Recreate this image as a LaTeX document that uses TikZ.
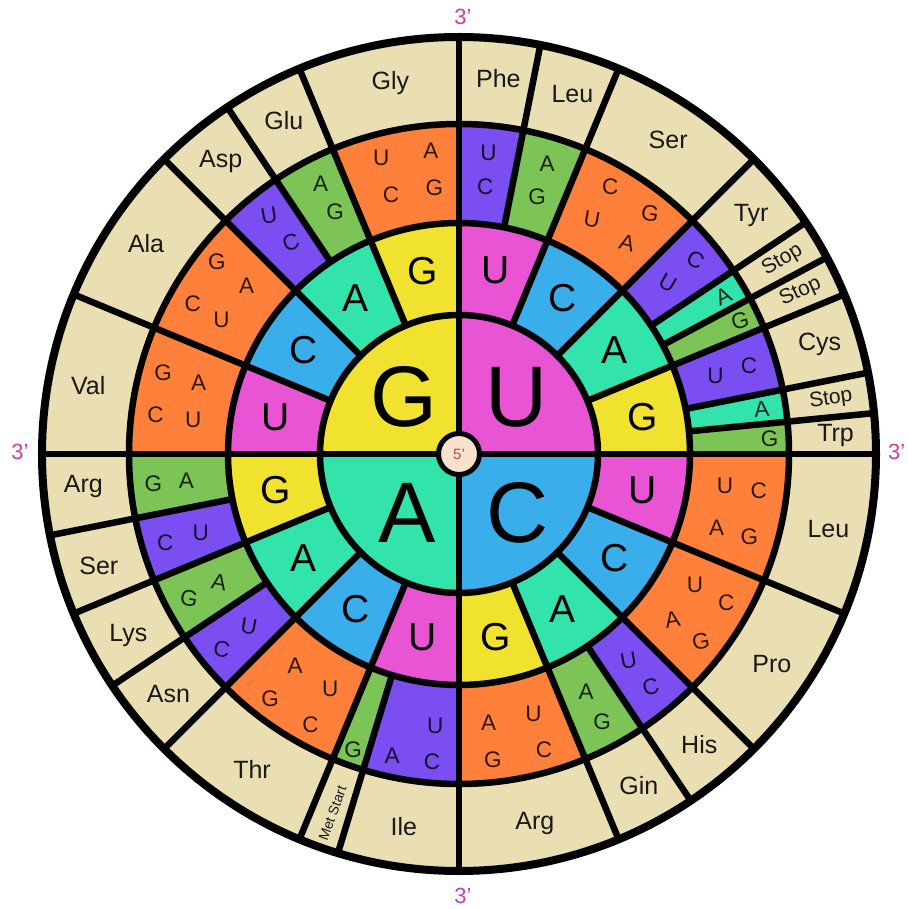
\documentclass[tikz,border=0pt]{standalone}
\usepackage{fontspec}
\setmainfont{Liberation Sans}
\definecolor{cU}{RGB}{232,84,212}
\definecolor{cC}{RGB}{58,174,234}
\definecolor{cA}{RGB}{50,228,172}
\definecolor{cG}{RGB}{241,226,48}
\definecolor{cO}{RGB}{255,128,58}
\definecolor{cP}{RGB}{122,78,240}
\definecolor{cGr}{RGB}{125,196,86}
\definecolor{cB}{RGB}{233,223,178}
\definecolor{cThree}{RGB}{196,66,168}
\definecolor{cFive}{RGB}{248,226,206}
\definecolor{cFiveT}{RGB}{170,80,80}
\definecolor{ink}{RGB}{25,25,25}
\newcommand{\annsec}[5]{\fill[#1] (#2:#4pt) arc[start angle=#2, end angle=#3, radius=#4pt] -- (#3:#5pt) arc[start angle=#3, end angle=#2, radius=#5pt] -- cycle;}
\begin{document}
\begin{tikzpicture}[x=1pt,y=1pt,
  edge/.style={line width=6.5pt, draw=black},
  rim/.style={line width=8pt, draw=black},
  bigletter/.style={font=\fontsize{86}{86}\selectfont, inner sep=0pt, text=black},
  midletter/.style={font=\fontsize{39}{39}\selectfont, inner sep=0pt, text=black},
  codonletter/.style={font=\fontsize{22.5}{22.5}\selectfont, inner sep=0pt, text=black, text opacity=0.82},
  aalabel/.style={font=\fontsize{25}{25}\selectfont, inner sep=0pt, text=ink},
  stoplabel/.style={font=\fontsize{21}{21}\selectfont, inner sep=0pt, text=ink},
  primelabel/.style={font=\fontsize{22}{22}\selectfont, inner sep=0pt, text=cThree},
]
\useasboundingbox (-459,-455) rectangle (448,454);
\fill[cB] (0,0) circle[radius=417pt];
% third ring boxes
\foreach \sa/\sb/\col in {90/78.75/cP, 78.75/67.5/cGr, 67.5/45/cO, 45/33.75/cP, 33.75/28.125/cA, 28.125/22.5/cGr, 22.5/11.25/cP, 11.25/5.625/cA, 5.625/0/cGr, 0/-22.5/cO, -22.5/-45/cO, -45/-56.25/cP, -56.25/-67.5/cGr, -67.5/-90/cO, 270/253.125/cP, 253.125/247.5/cGr, 247.5/225/cO, 225/213.75/cP, 213.75/202.5/cGr, 202.5/191.25/cP, 191.25/180/cGr, 180/157.5/cO, 157.5/135/cO, 135/123.75/cP, 123.75/112.5/cGr, 112.5/90/cO}
  {\annsec{\col}{\sa}{\sb}{228}{333}}
% second ring
\foreach \sa/\sb/\col in {90/67.5/cU, 67.5/45/cC, 45/22.5/cA, 22.5/0/cG, 0/-22.5/cU, -22.5/-45/cC, -45/-67.5/cA, -67.5/-90/cG, 270/247.5/cU, 247.5/225/cC, 225/202.5/cA, 202.5/180/cG, 180/157.5/cU, 157.5/135/cC, 135/112.5/cA, 112.5/90/cG}
  {\annsec{\col}{\sa}{\sb}{136}{231}}
% first ring
\fill[cU] (0,0) -- (0:139pt) arc[start angle=0, end angle=90, radius=139pt] -- cycle;
\fill[cG] (0,0) -- (90:139pt) arc[start angle=90, end angle=180, radius=139pt] -- cycle;
\fill[cA] (0,0) -- (180:139pt) arc[start angle=180, end angle=270, radius=139pt] -- cycle;
\fill[cC] (0,0) -- (270:139pt) arc[start angle=270, end angle=360, radius=139pt] -- cycle;
% circles
\draw[edge] (0,0) circle[radius=139pt];
\draw[edge] (0,0) circle[radius=231pt];
\draw[edge] (0,0) circle[radius=330pt];
% radial lines
\foreach \a in {0,90,180,270} \draw[edge] (\a:10pt) -- (\a:417pt);
\foreach \a in {22.5,45,67.5,112.5,135,157.5,202.5,225,247.5,292.5,315,337.5} \draw[edge] (\a:139pt) -- (\a:417pt);
\foreach \a in {78.75,33.75,28.125,11.25,5.625,303.75,253.125,213.75,191.25,123.75} \draw[edge] (\a:231pt) -- (\a:417pt);
\draw[rim] (0,0) circle[radius=417pt];
\draw[line width=5pt, fill=cFive] (0,0) circle[radius=20.5pt];
\node[font=\fontsize{15}{15}\selectfont, text=cFiveT, inner sep=0pt] (five) at (0,0) {5'};
% first base letters
\node[bigletter] (firstG) at (-55,57) {G};
\node[bigletter] (firstU) at (58,57) {U};
\node[bigletter] (firstA) at (-52,-59) {A};
\node[bigletter] (firstC) at (59,-59) {C};
% second base letters
\foreach \sa/\sb/\txt [count=\n] in {90/67.5/U, 67.5/45/C, 45/22.5/A, 22.5/0/G, 0/-22.5/U, -22.5/-45/C, -45/-67.5/A, -67.5/-90/G, 270/247.5/U, 247.5/225/C, 225/202.5/A, 202.5/180/G, 180/157.5/U, 157.5/135/C, 135/112.5/A, 112.5/90/G}
  {\pgfmathsetmacro{\mang}{(\sa+\sb)/2}
   \node[midletter] (second\n) at (\mang:187pt) {\txt};}
% third base letters
\foreach \ang/\rad/\txt/\rot [count=\n] in {84.4/303/U/0, 84.4/269/C/0, 73.1/303/A/0, 73.1/269/G/0,
 60.5/307/C/0, 60.5/270/U/-10, 51.5/307/G/-10, 51.5/270/A/-15,
 39.4/270/U/-30, 39.4/306/C/-30, 30.9/308/A/25, 25.3/311/G/15,
 16.9/268/U/0, 16.9/303/C/0, 8.4/306/A/5, 2.8/311/G/0,
 -6.9/268/U/0, -6.9/302/C/0, -15.9/268/A/0, -15.9/302/G/0,
 -29.1/270/U/0, -29.1/306/C/0, -37.8/270/A/10, -37.8/306/G/10,
 -50.6/267/U/10, -50.6/302/C/15, -61.9/270/A/0, -61.9/304/G/0,
 -74/270/U/0, -74/308/C/0, -83.7/270/A/0, -83.7/308/G/0,
 265/273/U/0, 265/309/C/0, 257.5/309/A/0, 250.3/314/G/0,
 241.3/268/U/0, 241.3/309/C/0, 232.3/268/A/0, 232.3/309/G/0,
 219.4/272/U/-10, 219.4/307/C/-10, 208.1/272/A/-10, 208.1/306/G/-10,
 196.9/270/U/0, 196.9/307/C/0, 185.6/274/A/0, 185.6/307/G/0,
 172.7/268/U/0, 172.7/306/C/0, 164.6/270/A/0, 164.6/307/G/0,
 150.5/273/U/0, 150.5/306/C/0, 141.6/271/A/0, 141.6/309/G/0,
 128.5/305/U/10, 128.5/270/C/20, 117.1/304/A/0, 117.1/272/G/0,
 104.7/306/U/0, 104.7/268/C/0, 95.3/305/A/0, 95.3/267/G/0}
  {\node[codonletter, rotate=\rot] (third\n) at (\ang:\rad pt) {\txt};}
% amino acid labels
\foreach \ang/\txt [count=\n] in {100.5/Gly, 84/Phe, 72.5/Leu, 56.3/Ser, 39.2/Tyr, 16.9/Cys, 2.8/Trp, -11.5/Leu, -33.9/Pro, -50.4/His, -61.5/Gin, -78.4/Arg, 261.6/Ile, 236.7/Thr, 219.6/Asn, 208.7/Lys, 197.2/Ser, 184.9/Arg, 169.6/Val, 146.1/Ala, 129.2/Asp, 117.7/Glu}
  {\node[aalabel] (amino\n) at (\ang:377pt) {\txt};}
\node[stoplabel, rotate=31] (stopA) at (30.9:377pt) {Stop};
\node[stoplabel, rotate=25] (stopB) at (25.4:378pt) {Stop};
\node[stoplabel, rotate=8] (stopC) at (8.4:376pt) {Stop};
\node[font=\fontsize{14}{14}\selectfont, inner sep=0pt, text=ink, rotate=70] (metstart) at (250.6:381pt) {Met Start};
% 3' labels
\node[primelabel] (topthree) at (4,437) {3'};
\node[primelabel] (leftthree) at (-439,2) {3'};
\node[primelabel, anchor=west] (rightthree) at (429,2) {3'};
\node[primelabel] (bottomthree) at (4,-442) {3'};
\end{tikzpicture}
\end{document}
